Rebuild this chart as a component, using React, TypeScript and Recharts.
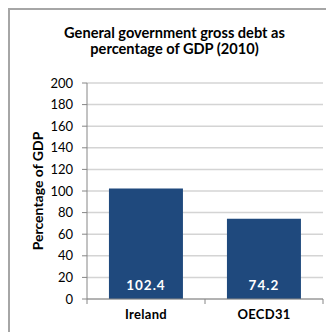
import React from "react";
import { BarChart, Bar, XAxis, YAxis, CartesianGrid, LabelList } from "recharts";

const countries = ["Ireland", "OECD31"];
const debtValues = [102.4, 74.2];
const yTicks = [0, 20, 40, 60, 80, 100, 120, 140, 160, 180, 200];

const data = countries.map((name, i) => ({ name, debt: debtValues[i] }));

const FONT = "Lato, 'Open Sans', sans-serif";
const CHART_W = 316;
const CHART_H = 314;
const MARGIN = { top: 73, right: 3, bottom: 0, left: 0 };
const Y_AXIS_W = 77;
const BAND = (CHART_W - MARGIN.left - MARGIN.right - Y_AXIS_W) / countries.length;

const CategoryTick = (props: any) => {
  const { x, y, payload, index } = props;
  return (
    <g>
      {index === 0 && (
        <line x1={x - BAND / 2} x2={x - BAND / 2} y1={y - 8} y2={y - 3} stroke="#868686" />
      )}
      <line x1={x + BAND / 2} x2={x + BAND / 2} y1={y - 8} y2={y - 3} stroke="#868686" />
      <text
        x={x}
        y={y + 12}
        textAnchor="middle"
        fontFamily={FONT}
        fontWeight="bold"
        fontSize={13}
        letterSpacing={0.3}
        fill="#000"
      >
        {payload.value}
      </text>
    </g>
  );
};

const ValueLabel = (props: any) => {
  const { x, y, width, height, value } = props;
  return (
    <text
      x={x + width / 2}
      y={y + height - 9}
      textAnchor="middle"
      fontFamily={FONT}
      fontWeight="bold"
      fontSize={13.5}
      letterSpacing={1}
      fill="#fff"
    >
      {value.toFixed(1)}
    </text>
  );
};

export default function App() {
  return (
    <div
      style={{
        position: "relative",
        width: 326,
        height: 324,
        boxSizing: "border-box",
        borderLeft: "2px solid #a6a6a6",
        borderTop: "2px solid #a6a6a6",
        fontFamily: FONT,
      }}
    >
      <div
        style={{
          position: "absolute",
          left: 0,
          top: 15,
          width: 329,
          textAlign: "center",
          fontWeight: "bold",
          fontSize: 14.6,
          lineHeight: "16px",
          color: "#000",
        }}
      >
        General government gross debt as
        <br />
        percentage of GDP (2010)
      </div>
      <BarChart
        width={CHART_W}
        height={CHART_H}
        data={data}
        margin={MARGIN}
        barCategoryGap="18.6%"
      >
        <CartesianGrid vertical={false} stroke="#d4d4d4" strokeWidth={1.5} />
        <XAxis
          dataKey="name"
          height={25}
          axisLine={{ stroke: "#868686" }}
          tickLine={false}
          tick={<CategoryTick />}
          interval={0}
        />
        <YAxis
          width={Y_AXIS_W}
          domain={[0, 200]}
          ticks={yTicks}
          interval={0}
          axisLine={{ stroke: "#868686" }}
          tickLine={{ stroke: "#868686" }}
          tickSize={5}
          tickMargin={9}
          tick={{ fontFamily: FONT, fontSize: 13, fill: "#000" }}
          label={{
            value: "Percentage of GDP",
            angle: -90,
            position: "insideLeft",
            offset: 28,
            style: { textAnchor: "middle", fontFamily: FONT, fontWeight: "bold", fontSize: 14, fill: "#000" },
          }}
        />
        <Bar dataKey="debt" fill="#1f497d" isAnimationActive={false}>
          <LabelList dataKey="debt" content={<ValueLabel />} />
        </Bar>
      </BarChart>
    </div>
  );
}
